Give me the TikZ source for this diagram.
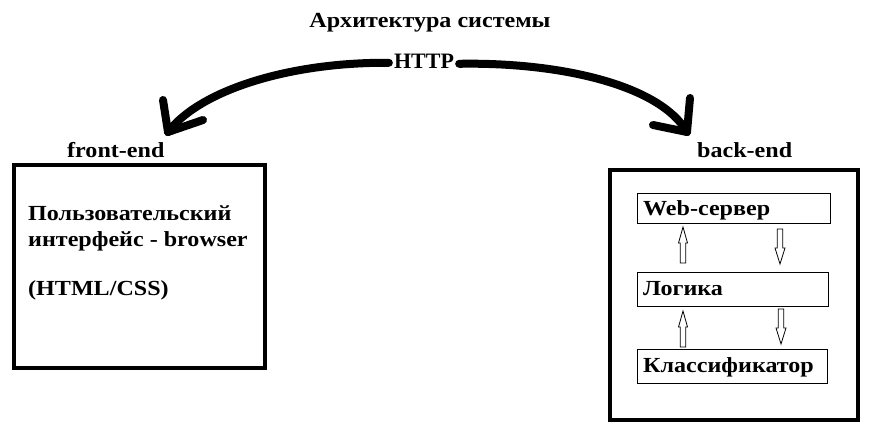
\documentclass[tikz,border=0pt]{standalone}
\usepackage{fontspec}
\setmainfont{Liberation Serif}[FakeStretch=1.12]
\newfontfamily\plainserif{Liberation Serif}
\usetikzlibrary{calc}
\tikzset{
  lbl/.style={font=\fontsize{21.5}{26}\selectfont\bfseries, inner sep=0pt, anchor=base west},
  bigbox/.style={draw, line width=4pt},
  smallbox/.style={draw, line width=1pt},
  thick arc/.style={line width=8pt, line cap=round, line join=round},
  hollow/.style={draw, line width=0.8pt, fill=white}
}
\newcommand\blkup[3]{% x, ytip, ybottom
  \path[hollow] (#1-2.8,#3) -- (#1-2.8,#2+16) -- (#1-4.5,#2+16) -- (#1,#2) -- (#1+4.5,#2+16) -- (#1+2.8,#2+16) -- (#1+2.8,#3) -- cycle;}
\newcommand\blkdn[3]{% x, ytop, ytip
  \path[hollow] (#1-2.8,#2) -- (#1-2.8,#3-16) -- (#1-5,#3-16) -- (#1,#3) -- (#1+5,#3-16) -- (#1+2.8,#3-16) -- (#1+2.8,#2) -- cycle;}
\begin{document}
\begin{tikzpicture}[x=1pt,y=-1pt]
\useasboundingbox (0,0) rectangle (869,427);
% title and HTTP
\node[lbl, anchor=base] (title) at (430,28) {Архитектура системы};
\node[inner sep=0pt, anchor=base, font=\plainserif\bfseries\fontsize{22}{26}\selectfont] (http) at (424,69) {HTTP};
% big boxes
\draw[bigbox] (14,165) rectangle (265,368);
\draw[bigbox] (610,170) rectangle (858,420);
\node[lbl] (fe) at (67,158) {front-end};
\node[lbl] (be) at (697,158) {back-end};
\node[lbl] (ui1) at (28,221) {Пользовательский};
\node[lbl] (ui2) at (28,247) {интерфейс - browser};
\node[lbl] (ui3) at (28,295) {(HTML/CSS)};
% inner boxes
\draw[smallbox] (637,194) rectangle (830,224);
\draw[smallbox] (637,273) rectangle (828,306);
\draw[smallbox] (637,349) rectangle (827,383);
\node[lbl] (web) at (643,216) {Web-сервер};
\node[lbl] (logic) at (643,295) {Логика};
\node[lbl] (cls) at (643,372) {Классификатор};
% small hollow arrows
\blkup{683}{227}{263}
\blkdn{780}{229}{264}
\blkup{683}{311}{347}
\blkdn{781}{309}{344}
% HTTP arcs
\coordinate (tipL) at (168,132);
\coordinate (tipR) at (687,132);
\coordinate (sL) at ($(http.west)+(-5,1)$);
\coordinate (sR) at ($(http.east)+(5,2)$);
\draw[thick arc] (sL) .. controls (290,62) and (200,90) .. (tipL);
\draw[thick arc] (tipL) -- (163,100);
\draw[thick arc] (tipL) -- (203,120);
\draw[thick arc] (sR) .. controls (560,62) and (660,85) .. (tipR);
\draw[thick arc] (tipR) -- (690,98);
\draw[thick arc] (tipR) -- (653,125);
\end{tikzpicture}
\end{document}
